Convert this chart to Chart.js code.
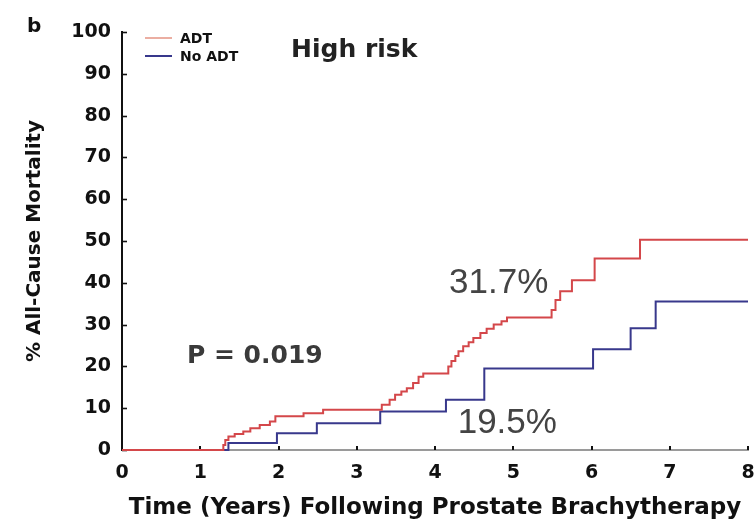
<!DOCTYPE html>
<html>
<head>
<meta charset="utf-8">
<script src="https://cdn.jsdelivr.net/npm/chart.js@4/dist/chart.umd.min.js"></script>
<style>
  html, body { margin: 0; padding: 0; background: #fff; }
  #wrap { width: 756px; height: 523px; position: relative; }
</style>
</head>
<body>
<div id="wrap"><canvas id="km" width="756" height="523"></canvas></div>
<script>
// Kaplan-Meier style cumulative all-cause mortality, high-risk group
const adtYears = [0, 1.295, 1.32, 1.36, 1.44, 1.55, 1.64, 1.76, 1.89, 1.96, 2.32, 2.57,
  3.32, 3.42, 3.49, 3.57, 3.64, 3.72, 3.79, 3.85, 3.89,
  4.17, 4.21, 4.26, 4.30, 4.36, 4.43, 4.49, 4.58, 4.66, 4.75, 4.85, 4.92,
  5.49, 5.54, 5.60, 5.75, 6.04, 6.62, 8.0];
const adtMortality = [0, 1.2, 2.4, 3.2, 3.8, 4.4, 5.2, 6.0, 6.8, 8.1, 8.8, 9.6,
  10.8, 12.0, 13.2, 14.0, 14.8, 16.0, 17.5, 18.3, 18.3,
  20.0, 21.3, 22.5, 23.6, 24.8, 25.8, 26.8, 28.0, 29.0, 30.0, 30.8, 31.7,
  33.5, 35.9, 38.0, 40.6, 45.8, 50.3, 50.3];

const noAdtYears = [0, 1.36, 1.98, 2.49, 3.30, 4.14, 4.63, 6.02, 6.50, 6.82, 8.0];
const noAdtMortality = [0, 1.7, 4.0, 6.4, 9.2, 12.0, 19.5, 24.1, 29.1, 35.5, 35.5];

const yearTicks = [0, 1, 2, 3, 4, 5, 6, 7, 8];
const mortalityTicks = [0, 10, 20, 30, 40, 50, 60, 70, 80, 90, 100];

const seriesLabels = ['ADT', 'No ADT'];
const seriesColors = ['#d4474a', '#38388c'];
const panelLetter = 'b';
const groupTitle = 'High risk';
const pValueText = 'P = 0.019';
const fiveYearText = ['31.7%', '19.5%'];

const toPoints = (xs, ys) => xs.map((x, i) => ({ x: x, y: ys[i] }));

// inward tick marks on both axes
const innerTicks = {
  id: 'innerTicks',
  beforeDatasetsDraw(chart) {
    const { ctx, scales: { x, y } } = chart;
    ctx.save();
    ctx.strokeStyle = '#111';
    ctx.lineWidth = 1.6;
    mortalityTicks.forEach(v => {
      const py = Math.round(y.getPixelForValue(v)) + 0.5;
      ctx.beginPath();
      ctx.moveTo(x.left, py);
      ctx.lineTo(x.left + 5, py);
      ctx.stroke();
    });
    ctx.lineWidth = 2;
    yearTicks.forEach(v => {
      const px = Math.round(x.getPixelForValue(v));
      ctx.beginPath();
      ctx.moveTo(px, y.bottom);
      ctx.lineTo(px, y.bottom - 4);
      ctx.stroke();
    });
    ctx.restore();
  }
};

// legend, panel letter and annotation texts
const annotations = {
  id: 'annotations',
  afterDraw(chart) {
    const { ctx, scales: { x, y }, chartArea } = chart;
    ctx.save();
    ctx.textBaseline = 'alphabetic';
    ctx.textAlign = 'left';

    // panel letter
    ctx.fillStyle = '#111';
    ctx.font = 'bold 20px "DejaVu Sans"';
    ctx.fillText(panelLetter, 27, 32);

    // legend
    const legendRows = [chartArea.top + 6, chartArea.top + 24];
    const legendLineColors = ['rgba(222,120,100,0.6)', seriesColors[1]];
    ctx.font = 'bold 14px "DejaVu Sans"';
    seriesLabels.forEach((label, i) => {
      const ly = legendRows[i];
      ctx.strokeStyle = legendLineColors[i];
      ctx.lineWidth = 2;
      ctx.beginPath();
      ctx.moveTo(chartArea.left + 23, ly);
      ctx.lineTo(chartArea.left + 50, ly);
      ctx.stroke();
      ctx.fillStyle = '#111';
      ctx.fillText(label, chartArea.left + 58, ly + 5);
    });

    // group title
    ctx.font = 'bold 25px "DejaVu Sans"';
    ctx.fillStyle = '#222';
    ctx.fillText(groupTitle, x.getPixelForValue(2.16), y.getPixelForValue(94));

    // log-rank p value
    ctx.fillStyle = '#3a3a3a';
    ctx.fillText(pValueText, x.getPixelForValue(0.83), y.getPixelForValue(20.8));

    // five-year estimates
    ctx.font = '35px "Liberation Sans"';
    ctx.fillStyle = '#444';
    ctx.fillText(fiveYearText[0], x.getPixelForValue(4.18), y.getPixelForValue(37.6));
    ctx.fillText(fiveYearText[1], x.getPixelForValue(4.29), y.getPixelForValue(4.1));
    ctx.restore();
  }
};

new Chart(document.getElementById('km'), {
  type: 'line',
  data: {
    datasets: [
      {
        label: seriesLabels[0],
        data: toPoints(adtYears, adtMortality),
        borderColor: seriesColors[0],
        borderWidth: 2,
        stepped: 'before',
        pointRadius: 0,
        fill: false,
        clip: 4
      },
      {
        label: seriesLabels[1],
        data: toPoints(noAdtYears, noAdtMortality),
        borderColor: seriesColors[1],
        borderWidth: 2,
        stepped: 'before',
        pointRadius: 0,
        fill: false,
        clip: 4
      }
    ]
  },
  options: {
    responsive: false,
    devicePixelRatio: 1,
    animation: false,
    layout: { padding: { left: 0, right: 8, top: 32, bottom: 0 } },
    plugins: {
      legend: { display: false },
      tooltip: { enabled: false }
    },
    scales: {
      x: {
        type: 'linear',
        min: 0,
        max: 8,
        afterBuildTicks: s => { s.ticks = yearTicks.map(v => ({ value: v })); },
        afterFit: s => { s.height = 73; s.paddingLeft = 0; s.paddingRight = 0; },
        grid: { drawOnChartArea: false, drawTicks: false },
        border: { display: true, color: '#9a9a9a', width: 2 },
        ticks: { padding: 12, color: '#111', font: { family: 'DejaVu Sans', size: 19, weight: 'bold' }, maxRotation: 0 },
        title: {
          display: true,
          text: 'Time (Years) Following Prostate Brachytherapy',
          color: '#111',
          font: { family: 'DejaVu Sans', size: 23, weight: 'bold' },
          padding: { top: 0, bottom: 1 }
        }
      },
      y: {
        type: 'linear',
        min: 0,
        max: 100,
        afterBuildTicks: s => { s.ticks = mortalityTicks.map(v => ({ value: v })); },
        afterFit: s => { s.width = 122; s.paddingTop = 0; s.paddingBottom = 0; },
        grid: { drawOnChartArea: false, drawTicks: false },
        border: { display: true, color: '#111', width: 2 },
        ticks: { padding: 11, color: '#111', font: { family: 'DejaVu Sans', size: 19, weight: 'bold' } },
        title: {
          display: true,
          text: '% All-Cause Mortality',
          color: '#111',
          font: { family: 'DejaVu Sans', size: 20, weight: 'bold' },
          padding: { top: 23, bottom: 0 }
        }
      }
    }
  },
  plugins: [innerTicks, annotations]
});
</script>
</body>
</html>
